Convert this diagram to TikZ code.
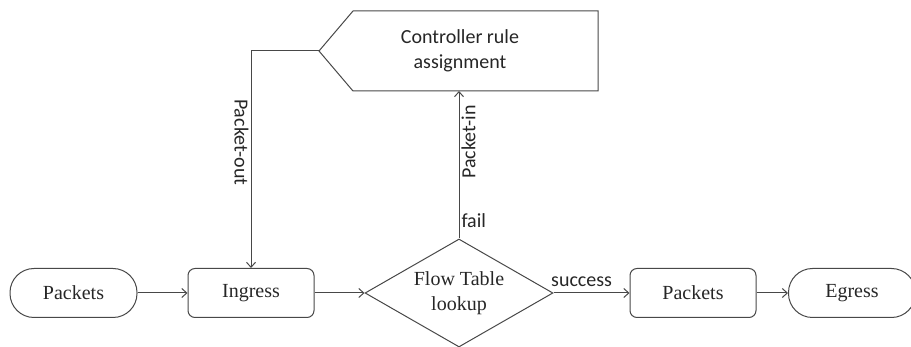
\documentclass[tikz,border=0pt]{standalone}
\usepackage{fontspec}
\setmainfont{Liberation Serif}
\newfontfamily\labelfont{Carlito}
\usepackage{tikz}
\usetikzlibrary{arrows,arrows.meta}
\usetikzlibrary{shapes}
\definecolor{linegray}{HTML}{484848}
\newcommand{\nodesize}{\fontsize{20}{25}\selectfont}
\newcommand{\labelsize}{\labelfont\fontsize{20}{25}\selectfont}

\begin{document}
\begin{tikzpicture}[x=1pt,y=-1pt,>={Straight Barb[length=5pt,width=9pt]},
	stadium/.style={draw=linegray, line width=1pt, rounded corners=24pt, minimum width=127pt, minimum height=49pt, inner sep=0pt, text=black!85, font=\nodesize},
	roundbox/.style={draw=linegray, line width=1pt, rounded corners=7pt, minimum width=126pt, minimum height=49pt, inner sep=0pt, text=black!85, font=\nodesize},
	decision/.style={draw=linegray, line width=1pt, diamond, aspect=1.74, minimum width=188pt, minimum height=108pt, inner sep=0pt, align=center, text=black!85, font=\nodesize},
	ctrltext/.style={align=center, text=black!85, font=\labelsize},
	flowlabel/.style={font=\labelsize, text=black!85, inner sep=2pt},
	arrow/.style={->, draw=linegray, line width=1pt},
]
		\useasboundingbox (0,0) rectangle (911,347);
		% noeuds du flux
		\node[stadium] (pktin) at (73.5,293) {Packets};
		\node[roundbox] (ingress) at (251,293) {Ingress};
		\node[decision] (lookup) at (459,293) {Flow Table\\lookup};
		\node[roundbox] (pktout) at (693,293) {Packets};
		\node[stadium] (egress) at (852,293) {Egress};
		% controleur
		\coordinate (ctrltip) at (319,51);
		\coordinate (ctrlbase) at (353,91);
		\draw[linegray, line width=1pt] (ctrltip) -- (353,11) -- (598,11) -- (598,91) -- (ctrlbase) -- cycle;
		\node[ctrltext] (ctrl) at (460,51) {Controller rule\\assignment};
		% fleches
		\draw[arrow] (pktin) -- (ingress);
		\draw[arrow] (ingress) -- (lookup);
		\draw[arrow] (lookup) -- node[flowlabel, above=4pt, pos=0.37] {success} (pktout);
		\draw[arrow] (pktout) -- (egress);
		\draw[arrow] (lookup.north) -- node[flowlabel, right, pos=0.12] {fail}
			node[flowlabel, rotate=90, anchor=north, pos=0.655] {Packet-in} (lookup.north |- ctrlbase);
		\draw[arrow] (ctrltip) -| node[flowlabel, rotate=-90, anchor=north, pos=0.71] {Packet-out} (ingress.north);
\end{tikzpicture}
\end{document}
